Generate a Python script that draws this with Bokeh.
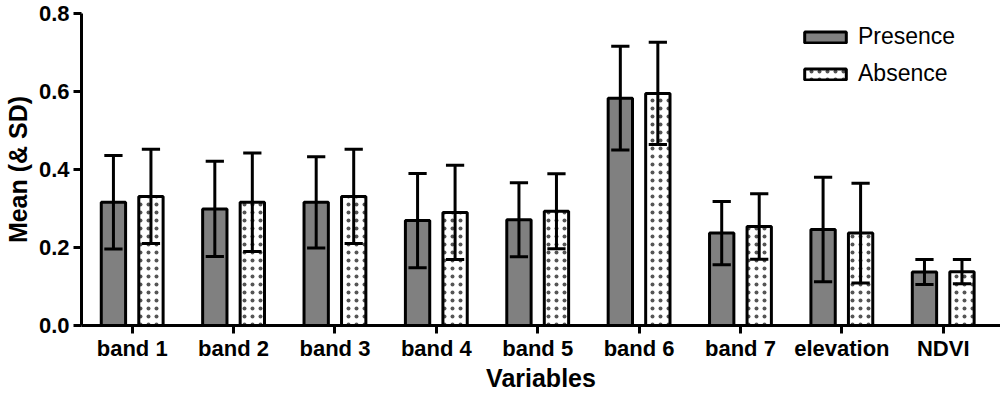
from bokeh.plotting import figure
from bokeh.models import (ColumnDataSource, FixedTicker, NumeralTickFormatter,
                          Legend, LegendItem, Range1d)
from bokeh.embed import file_html
from bokeh.resources import INLINE

categories = ["band 1", "band 2", "band 3", "band 4", "band 5", "band 6",
              "band 7", "elevation", "NDVI"]
presence_mean = [0.316, 0.299, 0.316, 0.269, 0.271, 0.583, 0.237, 0.246, 0.137]
presence_sd = [0.120, 0.122, 0.117, 0.121, 0.095, 0.133, 0.081, 0.134, 0.032]
absence_mean = [0.331, 0.316, 0.331, 0.290, 0.293, 0.595, 0.254, 0.237, 0.138]
absence_sd = [0.121, 0.126, 0.121, 0.121, 0.096, 0.131, 0.084, 0.128, 0.031]
y_ticks = [0.0, 0.2, 0.4, 0.6, 0.8]

FONT = "Liberation Sans"
OFF = 0.185
BAR_W = 0.24
CAP = 0.09

pos = list(range(1, len(categories) + 1))


def make_src(means, sds, off):
    xs = [p + off for p in pos]
    lo = [m - s for m, s in zip(means, sds)]
    hi = [m + s for m, s in zip(means, sds)]
    return ColumnDataSource(dict(
        x=xs, top=means, lo=lo, hi=hi,
        cx0=[x - CAP for x in xs], cx1=[x + CAP for x in xs]))


p = figure(width=1000, height=394, output_backend="svg", toolbar_location=None,
           x_range=Range1d(0.5, 9.565), y_range=Range1d(0, 0.8),
           min_border_left=79, min_border_right=0, min_border_top=13,
           min_border_bottom=69)
p.outline_line_color = None
p.xgrid.visible = False
p.ygrid.visible = False
p.background_fill_color = "white"

src_p = make_src(presence_mean, presence_sd, -OFF)
src_a = make_src(absence_mean, absence_sd, OFF)

r_p = p.vbar(x="x", top="top", bottom=0, width=BAR_W, source=src_p,
             fill_color="#808080", line_color="black", line_width=3)
r_a = p.vbar(x="x", top="top", bottom=0, width=BAR_W, source=src_a,
             fill_color="white", line_color="black", line_width=3,
             hatch_pattern="dot", hatch_color="#555555", hatch_scale=8,
             hatch_weight=1)

for src in (src_p, src_a):
    p.segment(x0="x", y0="lo", x1="x", y1="hi", source=src,
              line_color="black", line_width=3)
    p.segment(x0="cx0", y0="hi", x1="cx1", y1="hi", source=src,
              line_color="black", line_width=3)
    p.segment(x0="cx0", y0="lo", x1="cx1", y1="lo", source=src,
              line_color="black", line_width=3)

# axes
p.xaxis.ticker = FixedTicker(ticks=pos)
p.xaxis.major_label_overrides = {i: c for i, c in zip(pos, categories)}
p.xaxis.minor_tick_line_color = None
p.xaxis.major_tick_in = 0
p.xaxis.major_tick_out = 8
p.xaxis.axis_line_width = 3
p.xaxis.major_tick_line_width = 3
p.xaxis.major_label_text_font = FONT
p.xaxis.major_label_text_font_style = "bold"
p.xaxis.major_label_text_font_size = "22px"
p.xaxis.major_label_text_color = "black"
p.xaxis.major_label_standoff = 2
p.xaxis.axis_label = "Variables"
p.xaxis.axis_label_text_font = FONT
p.xaxis.axis_label_text_font_style = "bold"
p.xaxis.axis_label_text_font_size = "25px"
p.xaxis.axis_label_text_color = "black"
p.xaxis.axis_label_standoff = 0

p.yaxis.ticker = FixedTicker(ticks=y_ticks)
p.yaxis.formatter = NumeralTickFormatter(format="0.0")
p.yaxis.minor_tick_line_color = None
p.yaxis.major_tick_in = 0
p.yaxis.major_tick_out = 8
p.yaxis.axis_line_width = 3
p.yaxis.major_tick_line_width = 3
p.yaxis.major_label_text_font = FONT
p.yaxis.major_label_text_font_style = "bold"
p.yaxis.major_label_text_font_size = "22px"
p.yaxis.major_label_text_color = "black"
p.yaxis.major_label_standoff = 4
p.yaxis.axis_label = "Mean (& SD)"
p.yaxis.axis_label_text_font = FONT
p.yaxis.axis_label_text_font_style = "bold"
p.yaxis.axis_label_text_font_size = "25px"
p.yaxis.axis_label_text_color = "black"
p.yaxis.axis_label_standoff = 4

legend = Legend(items=[LegendItem(label="Presence", renderers=[r_p]),
                       LegendItem(label="Absence", renderers=[r_a])],
                location=(718, 238), orientation="vertical",
                glyph_width=52, glyph_height=14, label_standoff=7,
                spacing=10, padding=0, margin=0,
                border_line_color=None, background_fill_alpha=0,
                label_text_font=FONT, label_text_font_size="23px",
                label_text_color="black")
p.add_layout(legend)

open("out.html", "w").write(file_html(p, INLINE))
